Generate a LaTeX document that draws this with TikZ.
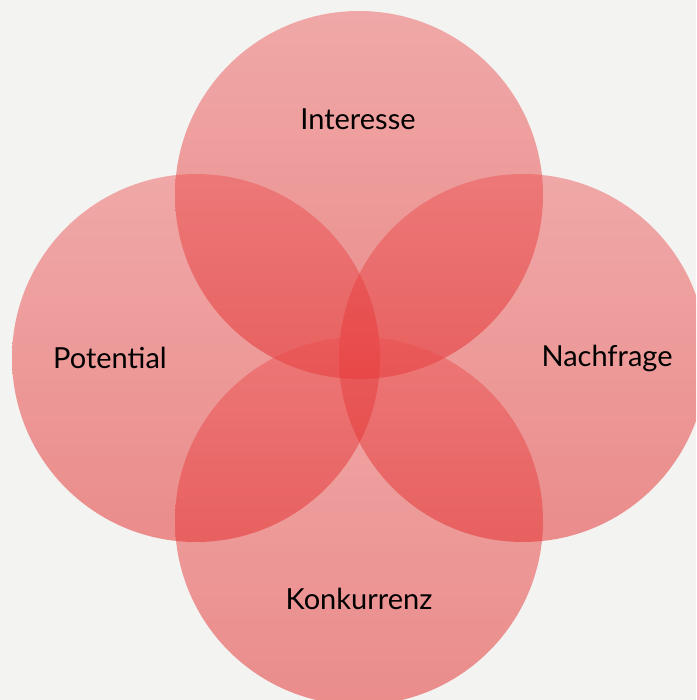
\documentclass[tikz,border=0pt]{standalone}
\usepackage{fontspec}
\setmainfont{Lato}
\begin{document}
\begin{tikzpicture}[x=1pt,y=-1pt,
  bubble/.style={top color=bubtop,bottom color=bubbot,fill opacity=0.45,draw=none},
  lbl/.style={font=\fontsize{29}{33}\selectfont,text=black,inner sep=0pt}]
\definecolor{bgc}{RGB}{243,243,241}
\definecolor{bubtop}{RGB}{236,78,78}
\definecolor{bubbot}{RGB}{224,16,16}
\fill[bgc] (0,0) rectangle (696,700);
\useasboundingbox (0,0) rectangle (696,700);
\begin{scope}
\clip (0,0) rectangle (696,700);
\shade[bubble] (359,195) circle (184);
\shade[bubble] (196,358) circle (184);
\shade[bubble] (523,358) circle (184);
\shade[bubble] (359,521) circle (184);
\end{scope}
\node[lbl] (int) at (358,119) {Interesse};
\node[lbl] (pot) at (110,358) {Potential};
\node[lbl] (nac) at (607,358) {Nachfrage};
\node[lbl] (kon) at (359,599) {Konkurrenz};
\end{tikzpicture}
\end{document}
